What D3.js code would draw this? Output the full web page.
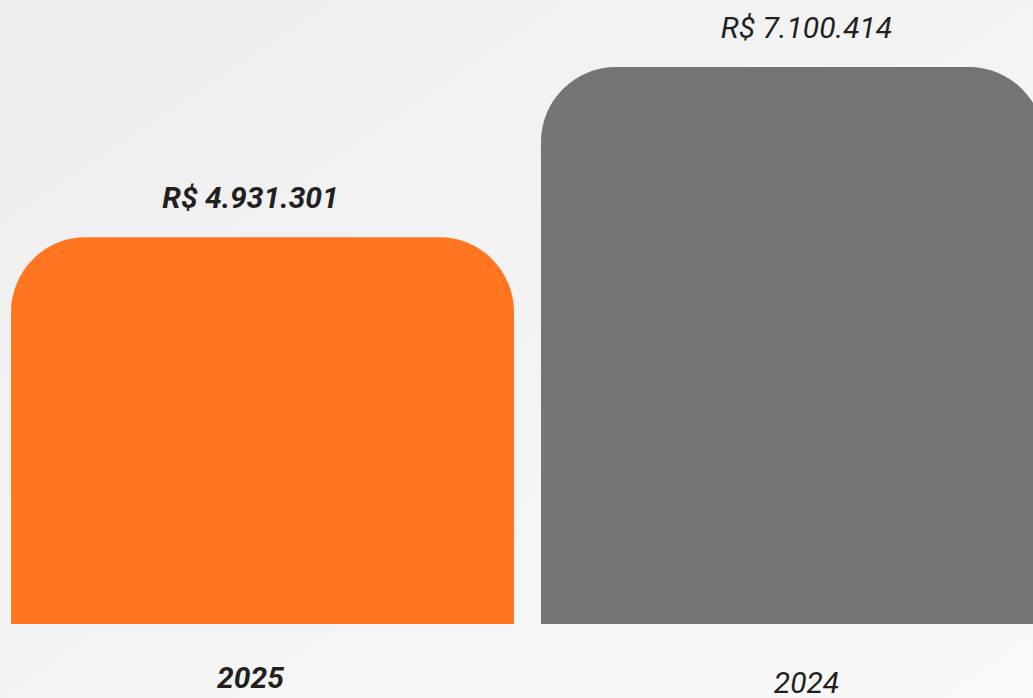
<!DOCTYPE html>
<html>
<head>
    <meta charset="UTF-8">
    <title>Faturamento 2025 vs 2024</title>
    <script src="https://d3js.org/d3.v7.min.js"></script>
    <style>
        html, body { margin: 0; padding: 0; overflow: hidden; }
        text { font-family: "Roboto", "Liberation Sans", sans-serif; font-style: italic; fill: #231f20; }
    </style>
</head>
<body>
<div id="chart"></div>
<script>
    // data
    var years = ["2025", "2024"];
    var values = [4931301, 7100414];
    var valueLabels = ["R$ 4.931.301", "R$ 7.100.414"];
    var colors = ["#ff7520", "#747474"];
    var weights = ["bold", "normal"];

    var W = 1033, H = 698;
    var svg = d3.select("#chart").append("svg")
        .attr("width", W).attr("height", H);

    // soft light background
    var grad = svg.append("defs").append("linearGradient")
        .attr("id", "bg").attr("x1", "0").attr("y1", "0").attr("x2", "1").attr("y2", "1");
    grad.append("stop").attr("offset", "0").attr("stop-color", "#eeeeee");
    grad.append("stop").attr("offset", "1").attr("stop-color", "#f9f9f9");
    svg.append("rect").attr("width", W).attr("height", H).attr("fill", "url(#bg)");

    var baseY = 624;
    var x = d3.scaleBand().domain(years).range([11, 1044]).paddingInner(27 / 530).paddingOuter(0);
    var y = d3.scaleLinear().domain([0, 7100414]).range([baseY, 67]);

    var r = 75;
    //bar with only the top corners rounded
    function topRounded(x0, y0, w, h) {
        var rr = Math.min(r, w / 2, h);
        return "M" + x0 + "," + (y0 + h) +
            "V" + (y0 + rr) +
            "A" + rr + "," + rr + " 0 0 1 " + (x0 + rr) + "," + y0 +
            "H" + (x0 + w - rr) +
            "A" + rr + "," + rr + " 0 0 1 " + (x0 + w) + "," + (y0 + rr) +
            "V" + (y0 + h) + "Z";
    }

    svg.selectAll("path.bar")
        .data(years)
        .enter().append("path")
        .attr("class", "bar")
        .attr("fill", function (d, i) { return colors[i]; })
        .attr("d", function (d, i) {
            return topRounded(x(d), y(values[i]), x.bandwidth(), baseY - y(values[i]));
        });

    // value labels above bars (slightly off centre as in the original)
    var labelShift = [-12, 14];
    svg.selectAll("text.value")
        .data(years)
        .enter().append("text")
        .attr("class", "value")
        .attr("x", function (d, i) { return x(d) + x.bandwidth() / 2 + labelShift[i]; })
        .attr("y", function (d, i) { return y(values[i]) - 29; })
        .attr("text-anchor", "middle")
        .style("font-size", "30px")
        .style("font-weight", function (d, i) { return weights[i]; })
        .text(function (d, i) { return valueLabels[i]; });

    // year labels under the bars
    var yearY = [688, 693];
    svg.selectAll("text.year")
        .data(years)
        .enter().append("text")
        .attr("class", "year")
        .attr("x", function (d, i) { return x(d) + x.bandwidth() / 2 + labelShift[i]; })
        .attr("y", function (d, i) { return yearY[i]; })
        .attr("text-anchor", "middle")
        .style("font-size", "30px")
        .style("font-weight", function (d, i) { return weights[i]; })
        .text(function (d) { return d; });
</script>
</body>
</html>
